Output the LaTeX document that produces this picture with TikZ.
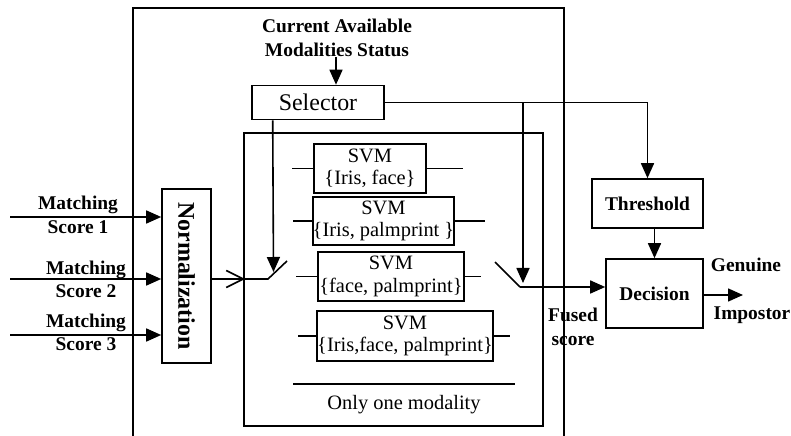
\documentclass[tikz,border=0pt]{standalone}
\usepackage{fontspec}
\setmainfont{Liberation Serif}
\usetikzlibrary{arrows.meta,calc}
\begin{document}
\begin{tikzpicture}[x=1bp,y=-1bp,
  line width=1.6bp,
  arr/.style={-{Triangle[length=15bp,width=13bp]}},
  box/.style={draw,rectangle,inner sep=0pt,align=center},
  lbl/.style={font=\fontsize{19.5}{23.5}\selectfont\bfseries,align=center,inner sep=0pt},
  svmtxt/.style={font=\fontsize{20.5}{22.5}\selectfont}
]
\useasboundingbox (0,0) rectangle (791,436);
% outer frame (open at the bottom)
\draw (133,436) -- (133,8) -- (564,8) -- (564,436);
% status and selector
\node[lbl] (status) at (337,38) {Current Available\\Modalities Status};
\node[box,minimum width=132bp,minimum height=34bp,font=\fontsize{24}{28}\selectfont] (sel) at (318,102.5) {Selector};
\draw[arr] (status.south -| 336,0) -- (sel.north -| 336,0);
% inner box
\node[box,minimum width=299bp,minimum height=293bp] (inner) at (393.5,279.5) {};
% SVM boxes
\node[box,svmtxt,minimum width=112bp,minimum height=49bp] (svm1) at (370,168.5) {SVM\\\{Iris, face\}};
\node[box,svmtxt,minimum width=139bp,minimum height=48bp] (svm2) at (383.5,221) {SVM\\\{Iris, palmprint \}};
\node[box,svmtxt,minimum width=146bp,minimum height=49bp] (svm3) at (391,276.5) {SVM\\\{face, palmprint\}};
\node[box,svmtxt,minimum width=174bp,minimum height=50bp] (svm4) at (405,336) {SVM\\\{Iris,face, palmprint\}};
\draw (svm1.west) -- ++(-21,0);  \draw (svm1.east) -- ++(36,0);
\draw (svm2.west) -- ++(-19,0);  \draw (svm2.east) -- ++(30,0);
\draw (svm3.west) -- ++(-21,0);  \draw (svm3.east) -- ++(16,0);
\draw (svm4.west) -- ++(-18,0);  \draw (svm4.east) -- ++(16,0);
\draw (293,384) -- (515,384);
\node[svmtxt] (one) at (404,405) {Only one modality};
% normalization
\node[box,minimum width=49bp,minimum height=174bp] (norm) at (186.5,276) {};
\node[rotate=-90,font=\fontsize{24}{28}\selectfont\bfseries] (normtxt) at (norm.center) {Normalization};
% inputs
\coordinate (in1) at (10,217);
\coordinate (in2) at (10,279);
\coordinate (in3) at (10,335);
\draw[arr] (in1) -- (in1 -| norm.west);
\draw[arr] (in2) -- (in2 -| norm.west);
\draw[arr] (in3) -- (in3 -| norm.west);
\node[lbl] (m1) at (78,215) {Matching\\Score 1};
\node[lbl] (m2) at (86,279.5) {Matching\\Score 2};
\node[lbl] (m3) at (86,332.5) {Matching\\Score 3};
% left switch
\coordinate (chev) at (245,279);
\coordinate (swL1) at (268,279);
\coordinate (swL2) at (287,261);
\draw[-{Straight Barb[length=17bp,width=17bp]}] (norm.east |- chev) -- (chev);
\draw (chev) -- (swL1) -- (swL2);
\coordinate (selLtip) at (273.5,272);
\draw[arr] ($(sel.south west)+(21.5,0)$) -- (selLtip);
% selector to threshold and right switch
\node[box,lbl,minimum width=111bp,minimum height=49bp] (thr) at (647.5,203.5) {Threshold};
\node[box,lbl,minimum width=97bp,minimum height=69bp] (dec) at (654.5,293.5) {Decision};
\draw[arr] (sel.east) -| (thr.north);
\coordinate (br) at (523,102.5);
\coordinate (brTip) at (523,283);
\draw[arr] (br) -- (brTip);
\coordinate (swR1) at (495,262);
\coordinate (swR2) at (520,287);
\draw (swR1) -- (swR2);
\draw[arr] (swR2) -- (swR2 -| dec.west);
\draw[arr] (thr.south -| dec.north) -- (dec.north);
% output
\coordinate (out) at (743,295);
\draw[arr] (dec.east |- out) -- (out);
\node[lbl] (gen) at (746,265) {Genuine};
\node[lbl] (imp) at (752,315) {Impostor};
\node[lbl] (fused) at (573,327) {Fused\\score};
\end{tikzpicture}
\end{document}
